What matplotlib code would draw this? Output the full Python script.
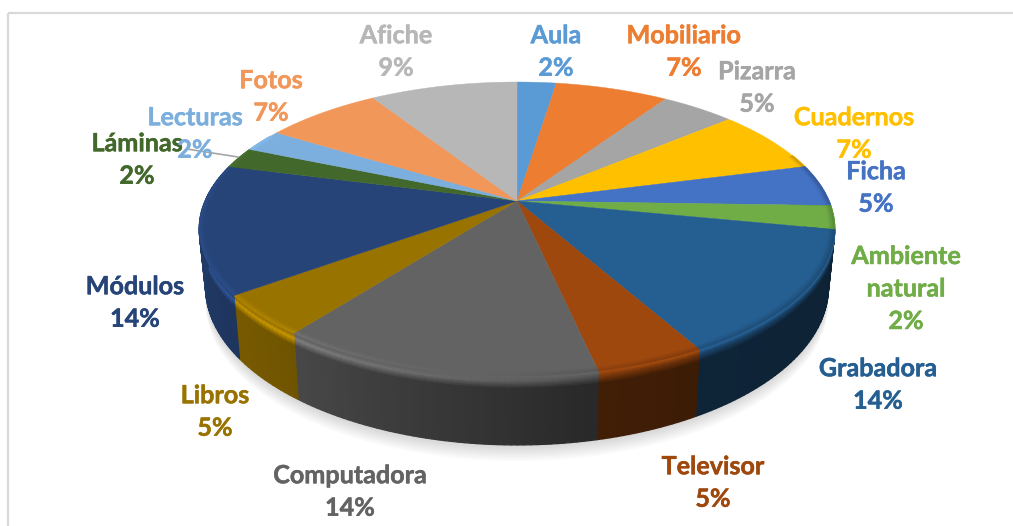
import numpy as np
import matplotlib
matplotlib.use("Agg")
import matplotlib.pyplot as plt
import matplotlib.patheffects as pe
from matplotlib.collections import PolyCollection
from matplotlib.patches import Polygon, Rectangle

# slices clockwise from 12 o'clock, shares estimated from the rim of the pie
categories = ["Aula", "Mobiliario", "Pizarra", "Cuadernos", "Ficha", "Ambiente\nnatural",
              "Grabadora", "Televisor", "Computadora", "Libros", "Módulos", "Láminas",
              "Lecturas", "Fotos", "Afiche"]
shares = [2.4, 6.9, 4.5, 7.1, 4.6, 2.6, 13.8, 4.7, 13.8, 4.5, 14.2, 2.3, 2.5, 7.1, 9.0]
shown_pct = [2, 7, 5, 7, 5, 2, 14, 5, 14, 5, 14, 2, 2, 7, 9]

colors = ["#5b9bd5", "#ed7d31", "#a5a5a5", "#ffc000", "#4472c4", "#70ad47",
          "#255e91", "#9e480e", "#636363", "#997300", "#264478", "#43682b",
          "#7cafdd", "#f1975a", "#b7b7b7"]
label_pos = [(556, 50), (684, 50), (757, 86), (854, 132), (876, 186), (906, 287),
             (878, 383), (713, 481), (350, 490), (215, 410), (135, 301), (137, 158),
             (195, 132), (271, 95), (396, 50)]
LINE_PITCH = 32.5

# projection of the disc, in image pixels
CX, CY = 517, 201
A, B, P = 312, 141.6, 0.19
DEPTH = 56


def project(theta, r=1.0, drop=0.0):
    w = 1 + P * r * np.cos(theta)
    narrow = 1 - 0.02 * drop / DEPTH
    x = CX + A * r * np.sin(theta) / w * narrow
    y = CY - B * r * np.cos(theta) / w + drop / w
    return x, y


def rgb(c):
    return np.array(matplotlib.colors.to_rgb(c))


def wall_level(deg):
    return np.interp(deg, [90, 150, 170, 190, 220, 240, 270, 300],
                     [.36, .38, .42, .55, .74, .8, .87, .87])


def shine_level(deg):
    return np.interp(deg, [75, 160, 180, 220, 240, 300],
                     [.62, .72, .95, 1.3, 1.25, 1.12])


fig = plt.figure(figsize=(10.13, 5.26), dpi=100)
ax = fig.add_axes([0, 0, 1, 1])
ax.set_xlim(0, 1013)
ax.set_ylim(526, 0)
ax.axis("off")

# chart frame, only top and left fall inside the crop
ax.add_patch(Rectangle((7.5, 13), 1100, 600, fill=False, ec="#d9d9d9", lw=1.6, zorder=0))

edges = np.radians(np.cumsum([0] + shares) * 3.6)
ring = np.linspace(0, 2 * np.pi, 361)

# soft shadow under the pie
for k in range(2, 17, 2):
    x, y = project(ring, 1.0, DEPTH)
    ax.add_patch(Polygon(np.c_[x, y + k], fc="#000000", ec="none", alpha=0.018, zorder=1))

wall_quads, wall_cols, bevel_quads, bevel_cols = [], [], [], []
drops = [0, 1.5, 3, 4.5, 6, 7.5, 9, DEPTH]
for i, c in enumerate(colors):
    base = rgb(c)
    n = max(int(np.degrees(edges[i + 1] - edges[i])), 1)
    steps = np.linspace(edges[i], edges[i + 1], n + 1)
    for t0, t1 in zip(steps[:-1], steps[1:]):
        deg = np.degrees((t0 + t1) / 2)
        if deg < 70 or deg > 300:
            continue
        wall = base * wall_level(deg)
        shine = np.clip(base * shine_level(deg), 0, 1)
        # wall with a rounded top edge, deepest band first so the bevel stays on top
        for d0, d1 in list(zip(drops[:-1], drops[1:]))[::-1]:
            f = d0 / 9
            if f < 1 / 3:
                col = base + (shine - base) * f * 3
            elif f < 1:
                col = shine + (wall - shine) * (f - 1 / 3) * 1.5
            else:
                col = wall
            xa, ya = project(np.array([t0, t1]), 1.0, d0)
            xb, yb = project(np.array([t1, t0]), 1.0, d1)
            wall_quads.append(np.c_[np.r_[xa, xb], np.r_[ya, yb]])
            wall_cols.append(np.clip(col, 0, 1))
        # fade on the top face towards the rim
        radii = np.linspace(0.98, 1.0, 5)
        for j, (r0, r1) in enumerate(zip(radii[:-1], radii[1:])):
            xa, ya = project(np.array([t0, t1]), r0)
            xb, yb = project(np.array([t1, t0]), r1)
            bevel_quads.append(np.c_[np.r_[xa, xb], np.r_[ya, yb]])
            bevel_cols.append(base + (np.minimum(shine, 1) - base) * (j + 0.5) / 4 * 0.6)

ax.add_collection(PolyCollection(wall_quads, facecolors=wall_cols, edgecolors=wall_cols,
                                 linewidths=0.9, zorder=2))

for i, c in enumerate(colors):
    t = np.linspace(edges[i], edges[i + 1], 60)
    x, y = project(t)
    ax.add_patch(Polygon(np.c_[np.r_[CX, x], np.r_[CY, y]], fc=c, ec=c, lw=0.3, zorder=3))

ax.add_collection(PolyCollection(bevel_quads, facecolors=bevel_cols, edgecolors=bevel_cols,
                                 linewidths=0.3, zorder=4))

# leader line for Lecturas
ax.plot([238, 187], [157, 149], color="#a6a6a6", lw=1.2, zorder=5)

# each line is its own text so neighbouring labels keep tight boxes
for name, pct, c, (lx, ly) in zip(categories, shown_pct, colors, label_pos):
    lines = name.split("\n") + [f"{pct}%"]
    top = ly - LINE_PITCH * (len(lines) - 1) / 2
    for k, line in enumerate(lines):
        txt = ax.text(lx, top + k * LINE_PITCH, line, color=c, family="Lato", weight="bold",
                      fontsize=18.1, ha="center", va="center_baseline", zorder=6)
        txt.set_path_effects([pe.withStroke(linewidth=0.35, foreground=c)])

fig.savefig("out.png", dpi=100, facecolor="white")
